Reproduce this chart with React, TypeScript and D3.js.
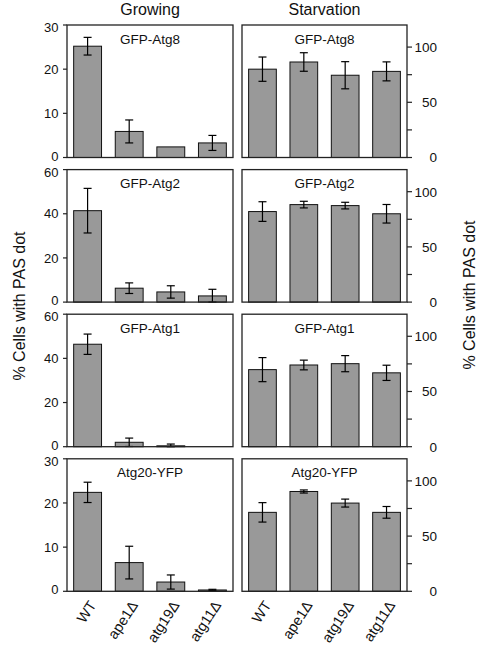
import React from "react";
import * as d3 from "d3";

const categories = ["WT", "ape1Δ", "atg19Δ", "atg11Δ"];
const proteins = ["GFP-Atg8", "GFP-Atg2", "GFP-Atg1", "Atg20-YFP"];
const columnTitles = ["Growing", "Starvation"];
const yLabel = "% Cells with PAS dot";

const growingMax = [30, 60, 60, 30];
const growingTicks = [
  [0, 10, 20, 30],
  [0, 20, 40, 60],
  [0, 20, 40, 60],
  [0, 10, 20, 30],
];
const growingMean = [
  [25.2, 5.9, 2.4, 3.3],
  [41.4, 6.3, 4.6, 2.8],
  [46.4, 2.0, 0.4, 0],
  [22.4, 6.5, 2.1, 0.3],
];
const growingErr = [
  [2.0, 2.6, 0, 1.7],
  [10.1, 2.4, 2.8, 3.0],
  [4.6, 1.9, 0.8, 0],
  [2.3, 3.7, 1.6, 0.15],
];

const starvMax = 120;
const starvTicks = [0, 25, 50, 75, 100];
const starvTickLabels = [0, 50, 100];
const starvMean = [
  [80, 86.5, 74.5, 78],
  [82, 88.3, 87.4, 80],
  [69.8, 74, 75.2, 66.9],
  [71.5, 90.4, 79.9, 71.5],
];
const starvErr = [
  [11, 8.4, 12.3, 8.6],
  [8.9, 3, 3, 8.4],
  [10.9, 4.4, 7.3, 6.9],
  [8.8, 1.4, 3.6, 5.3],
];

const W = 477;
const H = 650;
const FONT = "'Liberation Sans', Arial, sans-serif";
const leftX: [number, number] = [67, 233];
const rightX: [number, number] = [242, 407];
const panelTop0 = 25;
const panelStep = 144.6;
const panelH = 132.5;
const barFill = "#999999";

function Panel({
  x0,
  x1,
  top,
  max,
  means,
  errs,
  title,
  side,
  ticks,
  tickLabels,
}: {
  x0: number;
  x1: number;
  top: number;
  max: number;
  means: number[];
  errs: number[];
  title: string;
  side: "left" | "right";
  ticks: number[];
  tickLabels: number[];
}) {
  const x = d3.scaleBand<string>().domain(categories).range([x0, x1]).paddingInner(0.33).paddingOuter(0.16);
  const y = d3.scaleLinear().domain([0, max]).range([top + panelH, top]);
  const cap = 4;
  return (
    <g>
      {categories.map((c, i) => {
        const m = means[i];
        const e = errs[i];
        const bx = x(c) as number;
        const bw = x.bandwidth();
        const cx = bx + bw / 2;
        const lo = y(Math.max(0, m - e));
        const hi = y(m + e);
        return (
          <g key={c}>
            {m > 0 && (
              <rect x={bx} y={y(m)} width={bw} height={y(0) - y(m)} fill={barFill} stroke="#111" strokeWidth={1} />
            )}
            {e > 0 && (
              <g stroke="#000" strokeWidth={1.2}>
                <line x1={cx} x2={cx} y1={lo} y2={hi} />
                <line x1={cx - cap} x2={cx + cap} y1={hi} y2={hi} />
                <line x1={cx - cap} x2={cx + cap} y1={lo} y2={lo} />
              </g>
            )}
          </g>
        );
      })}
      <rect x={x0} y={top} width={x1 - x0} height={panelH} fill="none" stroke="#222" strokeWidth={1.3} />
      <text x={(x0 + x1) / 2} y={top + 18.5} textAnchor="middle" fontSize={13.5} fontFamily={FONT} fill="#111">
        {title}
      </text>
      {ticks.map((t) => {
        const ty = y(t);
        const shift = t === 0 ? -1.5 : t === max ? 2.5 : 0;
        return side === "left" ? (
          <g key={t}>
            <line x1={x0 - 4} x2={x0} y1={ty} y2={ty} stroke="#222" strokeWidth={1.2} />
            {tickLabels.includes(t) && (
              <text x={x0 - 8.5} y={ty + shift} dy="0.36em" textAnchor="end" fontSize={13} fontFamily={FONT} fill="#111">
                {t}
              </text>
            )}
          </g>
        ) : (
          <g key={t}>
            <line x1={x1} x2={x1 + 5} y1={ty} y2={ty} stroke="#222" strokeWidth={1.2} />
            {tickLabels.includes(t) && (
              <text x={437} y={ty} dy="0.36em" textAnchor="end" fontSize={13.5} fontFamily={FONT} fill="#111">
                {t}
              </text>
            )}
          </g>
        );
      })}
    </g>
  );
}

export default function App() {
  const lastBottom = panelTop0 + 3 * panelStep + panelH;
  const xl = d3.scaleBand<string>().domain(categories).range(leftX).paddingInner(0.33).paddingOuter(0.16);
  const xr = d3.scaleBand<string>().domain(categories).range(rightX).paddingInner(0.33).paddingOuter(0.16);
  return (
    <svg width={W} height={H} style={{ position: "absolute", left: 0, top: 0, background: "#fff" }}>
      <rect width={W} height={H} fill="#fff" />
      <text x={(leftX[0] + leftX[1]) / 2} y={15} textAnchor="middle" fontSize={16} fontFamily={FONT} fill="#111">
        {columnTitles[0]}
      </text>
      <text x={(rightX[0] + rightX[1]) / 2} y={15} textAnchor="middle" fontSize={16} fontFamily={FONT} fill="#111">
        {columnTitles[1]}
      </text>
      {proteins.map((p, i) => {
        const top = panelTop0 + i * panelStep;
        return (
          <g key={p}>
            <Panel
              x0={leftX[0]}
              x1={leftX[1]}
              top={top}
              max={growingMax[i]}
              means={growingMean[i]}
              errs={growingErr[i]}
              title={p}
              side="left"
              ticks={growingTicks[i]}
              tickLabels={growingTicks[i]}
            />
            <Panel
              x0={rightX[0]}
              x1={rightX[1]}
              top={top}
              max={starvMax}
              means={starvMean[i]}
              errs={starvErr[i]}
              title={p}
              side="right"
              ticks={starvTicks}
              tickLabels={starvTickLabels}
            />
          </g>
        );
      })}
      {[xl, xr].map((xs, k) =>
        categories.map((c) => {
          const cx = (xs(c) as number) + xs.bandwidth() / 2 + 5;
          const cy = lastBottom + 11;
          return (
            <text
              key={k + c}
              transform={`translate(${cx},${cy}) rotate(-57)`}
              textAnchor="end"
              dy="0.35em"
              fontSize={14.5}
              fontFamily={FONT}
              fill="#111"
            >
              {c}
            </text>
          );
        })
      )}
      <text transform={`translate(25,306) rotate(-90)`} textAnchor="middle" fontSize={16} fontFamily={FONT} fill="#111">
        {yLabel}
      </text>
      <text transform={`translate(475,295) rotate(-90)`} textAnchor="middle" fontSize={16} fontFamily={FONT} fill="#111">
        {yLabel}
      </text>
    </svg>
  );
}
